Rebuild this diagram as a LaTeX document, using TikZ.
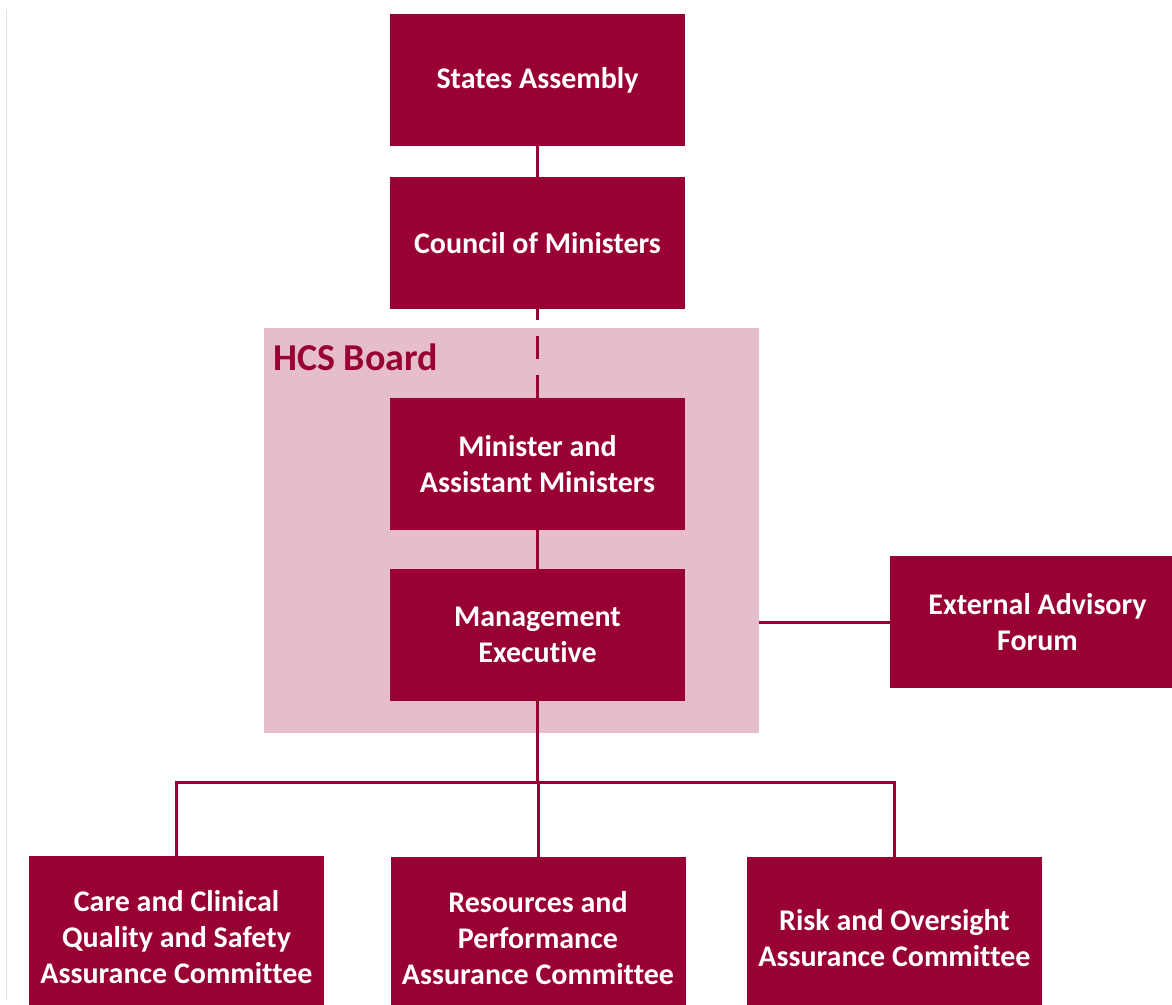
\documentclass[tikz,border=0pt]{standalone}
\usepackage{fontspec}
\setmainfont[RawFeature={-liga;-clig;-calt;-dlig}]{Carlito}
\definecolor{hcsred}{HTML}{990033}
\definecolor{hcspink}{HTML}{E5BECA}
\begin{document}
\begin{tikzpicture}[x=1bp,y=-1bp,
  box/.style={draw=none,fill=hcsred,text=white,minimum width=295bp,minimum height=132bp,
    align=center,inner sep=0pt,font=\bfseries\fontsize{30bp}{36bp}\selectfont},
  tallbox/.style={box,minimum height=162bp},
  conn/.style={draw=hcsred,line width=3bp}]
\useasboundingbox (0,0) rectangle (1172,1005);
\clip (0,0) rectangle (1172,1005);
\fill[white] (0,0) rectangle (1172,1005);
\draw[black!12,line width=1bp] (6,10) -- (6,1000);
% HCS board background
\node[fill=hcspink,minimum width=495bp,minimum height=405bp,inner sep=0pt] (board) at (511.5,530.5) {};
\node[anchor=base west,inner sep=0pt,text=hcsred,font=\bfseries\fontsize{38bp}{44bp}\selectfont] (boardlbl) at (273,370) {HCS Board};
% nodes
\node[box] (sa) at (537.5,80) {States Assembly};
\node[box] (com) at (537.5,243) {Council of Ministers};
\node[box] (min) at (537.5,464) {Minister and\\Assistant Ministers};
\node[box] (me) at (537.5,635) {Management\\Executive};
\node[box] (eaf) at (1037.5,622) {External Advisory\\Forum};
\node[tallbox] (care) at (176.5,937) {Care and Clinical\\Quality and Safety\\Assurance Committee};
\node[tallbox] (res) at (538,938) {Resources and\\Performance\\Assurance Committee};
\node[tallbox] (risk) at (894.5,938) {Risk and Oversight\\Assurance Committee};
% connectors
\path[conn] (sa.south) -- (com.north);
\path[conn,dash pattern=on 23bp off 16bp] (min.north) -- (com.south);
\path[conn] (min.south) -- (me.north);
\path[conn] (me.south) -- ++(0,81) coordinate (j);
\path[conn] (care.north) |- (j) -| (risk.north);
\path[conn] (j) -- (j -| res.north) -- (res.north);
\path[conn] (eaf.west) -- (eaf.west -| board.east);
\end{tikzpicture}
\end{document}
